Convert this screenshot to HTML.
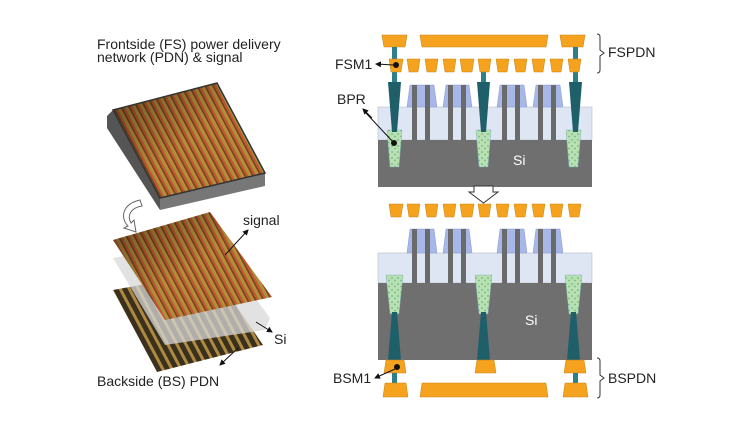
<!DOCTYPE html>
<html><head><meta charset="utf-8"><style>
html,body{margin:0;padding:0;background:#fff;}
svg{display:block;font-family:"Liberation Sans","DejaVu Sans",sans-serif;}
</style></head><body>
<svg width="750" height="421" viewBox="0 0 750 421" xmlns="http://www.w3.org/2000/svg">
<defs>
<pattern id="chip" width="7" height="20" patternUnits="userSpaceOnUse" patternTransform="rotate(-28)">
<rect width="7" height="20" fill="#b07030"/>
<rect x="0" width="1.5" height="20" fill="#6a4a22"/>
<rect x="1.5" width="2" height="20" fill="#c9542f"/>
<rect x="4" width="1.2" height="20" fill="#9aa040"/>
<rect x="5.5" width="1.2" height="20" fill="#d08a3a"/>
</pattern>
<pattern id="bs" width="8" height="20" patternUnits="userSpaceOnUse" patternTransform="rotate(-28)">
<rect width="8" height="20" fill="#3a3020"/>
<rect x="1" width="3" height="20" fill="#b08a3c"/>
</pattern>
<pattern id="dots" width="6" height="6" patternUnits="userSpaceOnUse">
<rect width="6" height="6" fill="#b9e0b0"/>
<circle cx="2" cy="2" r="0.9" fill="#6fb88a"/>
<circle cx="5" cy="4.5" r="0.9" fill="#6fb88a"/>
</pattern>
<linearGradient id="shade" x1="0" y1="0" x2="1" y2="1">
<stop offset="0" stop-color="#000" stop-opacity="0.45"/>
<stop offset="0.5" stop-color="#000" stop-opacity="0"/>
</linearGradient>
<marker id="ar" markerWidth="6" markerHeight="6" refX="5" refY="3" orient="auto"><path d="M0,0 L6,3 L0,6z" fill="#111"/></marker>
</defs>

<text x="97" y="49" font-size="14" fill="#222">Frontside (FS) power delivery</text>
<text x="97" y="62" font-size="14" fill="#222">network (PDN) &amp; signal</text>

<polygon points="107,116 113,110 160,198 160,210 107,128" fill="#555"/>
<polygon points="160,198 265,173 265,186 160,210" fill="#777"/>
<polygon points="113,110 217,83 265,173 160,198" fill="url(#chip)"/>
<polygon points="113,110 217,83 265,173 160,198" fill="url(#shade)"/>
<polygon points="113,110 217,83 265,173 160,198" fill="none" stroke="#333" stroke-width="1.5"/>

<path d="M140,200 C122,204 120,218 128,226 L124,228 L136,232 L134,220 L131,223 C127,216 130,208 142,206 Z" fill="#fff" stroke="#666" stroke-width="1"/>

<polygon points="113,290 213,272 263,345 157,372" fill="url(#bs)"/>
<polygon points="113,258 213,240 270,318 265,330 165,345" fill="#d8d8d8" opacity="0.75"/>
<polygon points="113,240 210,212 272,297 165,320" fill="url(#chip)"/>
<polygon points="113,240 210,212 272,297 165,320" fill="url(#shade)"/>

<line x1="225" y1="255" x2="248" y2="230" stroke="#111" stroke-width="1" marker-end="url(#ar)"/>
<text x="243" y="225" font-size="14" fill="#222">signal</text>
<line x1="256" y1="322" x2="272" y2="332" stroke="#111" stroke-width="1" marker-end="url(#ar)"/>
<text x="274" y="344" font-size="14" fill="#222">Si</text>
<line x1="238" y1="348" x2="220" y2="365" stroke="#111" stroke-width="1" marker-end="url(#ar)"/>
<text x="97" y="386" font-size="14" fill="#222">Backside (BS) PDN</text>

<g>
<polygon points="382,35 407,35 405,47 384,47" fill="#f5a21e" stroke="#c98314" stroke-width=".6"/>
<polygon points="420,35 548,35 546,47 422,47" fill="#f5a21e" stroke="#c98314" stroke-width=".6"/>
<polygon points="560,35 585,35 583,47 562,47" fill="#f5a21e" stroke="#c98314" stroke-width=".6"/>
<rect x="392" y="47" width="5" height="12" fill="#2f7f8a"/>
<rect x="573" y="47" width="5" height="12" fill="#2f7f8a"/>
<rect x="392" y="72" width="5" height="10" fill="#2f7f8a"/>
<rect x="481" y="72" width="5" height="10" fill="#2f7f8a"/>
<rect x="573" y="72" width="5" height="10" fill="#2f7f8a"/>
<rect x="378" y="107" width="214" height="33" fill="#dde6f2" stroke="#bbc" stroke-width=".6"/>
<rect x="378" y="140" width="214" height="47" fill="#6f6f6f"/>
<text x="513" y="165" font-size="14" fill="#fff">Si</text>
<g fill="#a7b8e8" stroke="#8a9ad0" stroke-width=".5">
<polygon points="410,85 434,85 437,107 407,107"/>
<polygon points="446,85 469,85 472,107 443,107"/>
<polygon points="500,85 524,85 527,107 497,107"/>
<polygon points="536,85 560,85 563,107 533,107"/>
</g>
<g fill="#6a6a6a">
<rect x="412" y="85" width="5" height="55"/><rect x="425" y="85" width="5" height="55"/>
<rect x="448" y="85" width="5" height="55"/><rect x="461" y="85" width="5" height="55"/>
<rect x="502" y="85" width="5" height="55"/><rect x="515" y="85" width="5" height="55"/>
<rect x="538" y="85" width="5" height="55"/><rect x="551" y="85" width="5" height="55"/>
</g>
<polygon points="387,130 402,130 399,167 390,167" fill="url(#dots)" stroke="#7ab" stroke-width=".4"/>
<polygon points="476,130 491,130 488,167 479,167" fill="url(#dots)" stroke="#7ab" stroke-width=".4"/>
<polygon points="566,130 581,130 578,167 569,167" fill="url(#dots)" stroke="#7ab" stroke-width=".4"/>
<polygon points="388,82 401,82 397,132 392,132" fill="#1f5f6a"/>
<polygon points="477,82 490,82 486,132 481,132" fill="#1f5f6a"/>
<polygon points="569,82 582,82 578,132 573,132" fill="#1f5f6a"/>
<g fill="#f5a21e" stroke="#c98314" stroke-width=".5">
<polygon points="389,59 403,59 401,72 391,72"/>
<polygon points="407,59 420,59 418,72 409,72"/>
<polygon points="425,59 438,59 436,72 427,72"/>
<polygon points="443,59 456,59 454,72 445,72"/>
<polygon points="460,59 474,59 472,72 462,72"/>
<polygon points="478,59 491,59 489,72 480,72"/>
<polygon points="496,59 509,59 507,72 498,72"/>
<polygon points="514,59 527,59 525,72 516,72"/>
<polygon points="532,59 545,59 543,72 534,72"/>
<polygon points="550,59 563,59 561,72 552,72"/>
<polygon points="568,59 581,59 579,72 570,72"/>
</g>
<circle cx="396" cy="65" r="3" fill="#111"/>
<line x1="393" y1="65" x2="376" y2="64" stroke="#111" marker-end="url(#ar)"/>
<line x1="394" y1="143" x2="365" y2="112" stroke="#111"/>
<circle cx="394" cy="143" r="3" fill="#111"/>
<line x1="372" y1="118" x2="363" y2="109" stroke="#111" marker-end="url(#ar)"/>
<text x="335" y="69" font-size="14" fill="#222">FSM1</text>
<text x="337" y="104" font-size="14" fill="#222">BPR</text>
<path d="M597,34 Q600,34 600,37 L600,50 L604,53 L600,56 L600,70 Q600,73 597,73" fill="none" stroke="#333"/>
<text x="608" y="57" font-size="14" fill="#222">FSPDN</text>
</g>

<polygon points="474,186 493,186 493,192 498,192 483.5,203 469,192 474,192" fill="#fff" stroke="#333" stroke-width="1"/>

<g>
<g fill="#f5a21e" stroke="#c98314" stroke-width=".5">
<polygon points="389,204 403,204 401,217 391,217"/>
<polygon points="407,204 420,204 418,217 409,217"/>
<polygon points="425,204 438,204 436,217 427,217"/>
<polygon points="443,204 456,204 454,217 445,217"/>
<polygon points="460,204 474,204 472,217 462,217"/>
<polygon points="478,204 491,204 489,217 480,217"/>
<polygon points="496,204 509,204 507,217 498,217"/>
<polygon points="514,204 527,204 525,217 516,217"/>
<polygon points="532,204 545,204 543,217 534,217"/>
<polygon points="550,204 563,204 561,217 552,217"/>
<polygon points="568,204 581,204 579,217 570,217"/>
</g>
<rect x="378" y="253" width="214" height="30" fill="#dde6f2" stroke="#bbc" stroke-width=".6"/>
<rect x="378" y="283" width="214" height="77" fill="#6f6f6f"/>
<text x="525" y="325" font-size="14" fill="#fff">Si</text>
<g fill="#a7b8e8" stroke="#8a9ad0" stroke-width=".5">
<polygon points="410,229 434,229 437,253 407,253"/>
<polygon points="446,229 469,229 472,253 443,253"/>
<polygon points="500,229 524,229 527,253 497,253"/>
<polygon points="536,229 560,229 563,253 533,253"/>
</g>
<g fill="#6a6a6a">
<rect x="412" y="229" width="5" height="54"/><rect x="425" y="229" width="5" height="54"/>
<rect x="448" y="229" width="5" height="54"/><rect x="461" y="229" width="5" height="54"/>
<rect x="502" y="229" width="5" height="54"/><rect x="515" y="229" width="5" height="54"/>
<rect x="538" y="229" width="5" height="54"/><rect x="551" y="229" width="5" height="54"/>
</g>
<polygon points="386,275 403,275 399,314 390,314" fill="url(#dots)" stroke="#7ab" stroke-width=".4"/>
<polygon points="475,275 492,275 488,314 479,314" fill="url(#dots)" stroke="#7ab" stroke-width=".4"/>
<polygon points="565,275 582,275 578,314 569,314" fill="url(#dots)" stroke="#7ab" stroke-width=".4"/>
<polygon points="392,312 397,312 401,360 388,360" fill="#1f5f6a"/>
<polygon points="481,312 486,312 490,360 477,360" fill="#1f5f6a"/>
<polygon points="571,312 576,312 580,360 567,360" fill="#1f5f6a"/>
<g fill="#f5a21e" stroke="#c98314" stroke-width=".5">
<polygon points="386,360 404,360 406,373 384,373"/>
<polygon points="477,360 494,360 496,373 475,373"/>
<polygon points="566,360 584,360 586,373 564,373"/>
</g>
<rect x="392" y="373" width="5" height="10" fill="#2f7f8a"/>
<rect x="573" y="373" width="5" height="10" fill="#2f7f8a"/>
<g fill="#f5a21e" stroke="#c98314" stroke-width=".5">
<polygon points="385,383 406,383 408,397 383,397"/>
<polygon points="422,383 546,383 548,397 420,397"/>
<polygon points="565,383 586,383 588,397 563,397"/>
</g>
<circle cx="397" cy="367" r="3" fill="#111"/>
<line x1="395" y1="369" x2="375" y2="378" stroke="#111" marker-end="url(#ar)"/>
<text x="333" y="383" font-size="14" fill="#222">BSM1</text>
<path d="M597,358 Q600,358 600,361 L600,375 L604,378 L600,381 L600,395 Q600,398 597,398" fill="none" stroke="#333"/>
<text x="608" y="383" font-size="14" fill="#222">BSPDN</text>
</g>
</svg>
</body></html>
